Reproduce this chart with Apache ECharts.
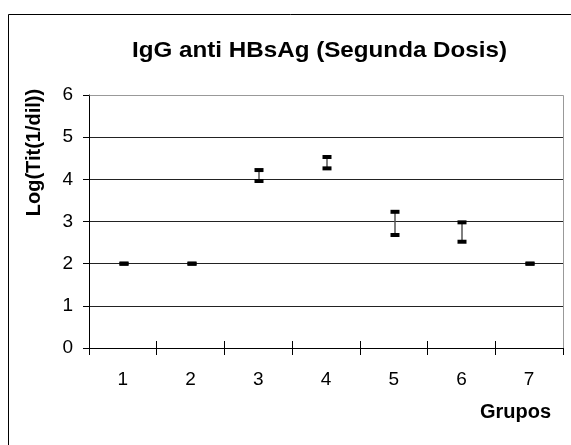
<!DOCTYPE html>
<html>
<head>
<meta charset="utf-8">
<script src="https://cdn.jsdelivr.net/npm/echarts@6/dist/echarts.min.js"></script>
<style>
  html, body { margin: 0; padding: 0; background: #fff; }
  #chart { width: 571px; height: 445px; }
</style>
</head>
<body>
<div id="chart"></div>
<script>
// Groups and the range (low / high) of log titres for each group
const grupos = ['1', '2', '3', '4', '5', '6', '7'];
const bajo = [2.0, 2.0, 3.96, 4.26, 2.68, 2.52, 2.0];
const alto = [2.0, 2.0, 4.22, 4.53, 3.23, 2.98, 2.0];
const yTicks = [0, 1, 2, 3, 4, 5, 6];

const rangos = grupos.map((g, i) => [i, bajo[i], alto[i]]);

const font = '"Liberation Sans", Arial, sans-serif';
const chart = echarts.init(document.getElementById('chart'), null, { renderer: 'canvas' });

// High-low bar with flat caps at both ends
function renderRange(params, api) {
  const idx = api.value(0);
  const lo = api.coord([idx, api.value(1)]);
  const hi = api.coord([idx, api.value(2)]);
  const cx = Math.round(lo[0]) + 1;
  const capW = 9, capH = 4;
  return {
    type: 'group',
    children: [
      { type: 'line', shape: { x1: cx, y1: hi[1], x2: cx, y2: lo[1] },
        style: { stroke: '#555', lineWidth: 1.5 } },
      { type: 'rect', shape: { x: cx - capW / 2, y: hi[1] - capH / 2, width: capW, height: capH },
        style: { fill: '#000' } },
      { type: 'rect', shape: { x: cx - capW / 2, y: lo[1] - capH / 2, width: capW, height: capH },
        style: { fill: '#000' } }
    ]
  };
}

chart.setOption({
  animation: false,
  backgroundColor: '#fff',
  grid: { left: 89, top: 95, width: 474, height: 253, show: false },
  xAxis: [
    {
      type: 'category', data: grupos, position: 'bottom',
      axisLine: { show: true, lineStyle: { color: '#000', width: 1 } },
      axisTick: { show: true, length: 7, lineStyle: { color: '#000' } },
      axisLabel: { color: '#000', fontFamily: font, fontSize: 19, margin: 22 },
      splitLine: { show: false }
    },
    {
      type: 'category', data: grupos, position: 'bottom',
      axisLine: { show: false },
      axisTick: { show: true, inside: true, length: 7, lineStyle: { color: '#000' } },
      axisLabel: { show: false },
      splitLine: { show: false }
    }
  ],
  yAxis: {
    type: 'value', min: yTicks[0], max: yTicks[yTicks.length - 1], interval: 1,
    axisLine: { show: true, lineStyle: { color: '#000', width: 1 } },
    axisTick: { show: true, length: 6, lineStyle: { color: '#000' } },
    axisLabel: { color: '#000', fontFamily: font, fontSize: 19, margin: 16 },
    splitLine: { show: true, lineStyle: { color: '#222', width: 1 } }
  },
  series: [{
    type: 'custom',
    renderItem: renderRange,
    data: rangos,
    encode: { x: 0, y: [1, 2] },
    z: 5
  }],
  graphic: [
    // outer chart frame
    { type: 'rect', shape: { x: 8.5, y: 14.5, width: 620, height: 500 },
      style: { fill: null, stroke: '#000', lineWidth: 1 }, z: 0, silent: true },
    // plot area frame (top and right edges)
    { type: 'polyline', shape: { points: [[89.5, 95.5], [563.5, 95.5], [563.5, 348]] },
      style: { fill: null, stroke: '#999', lineWidth: 1 }, z: 1 },
    { type: 'text', x: 319.5, y: 51, scaleX: 1.1,
      style: { text: 'IgG anti HBsAg (Segunda Dosis)', font: 'bold 22px ' + font,
               fill: '#000', align: 'center', verticalAlign: 'middle' } },
    { type: 'text', x: 34.5, y: 152.5, rotation: Math.PI / 2,
      style: { text: 'Log(Tit(1/dil))', font: 'bold 20px ' + font,
               fill: '#000', align: 'center', verticalAlign: 'middle' } },
    { type: 'text', x: 515.5, y: 412,
      style: { text: 'Grupos', font: 'bold 20px ' + font,
               fill: '#000', align: 'center', verticalAlign: 'middle' } }
  ]
});
</script>
</body>
</html>
